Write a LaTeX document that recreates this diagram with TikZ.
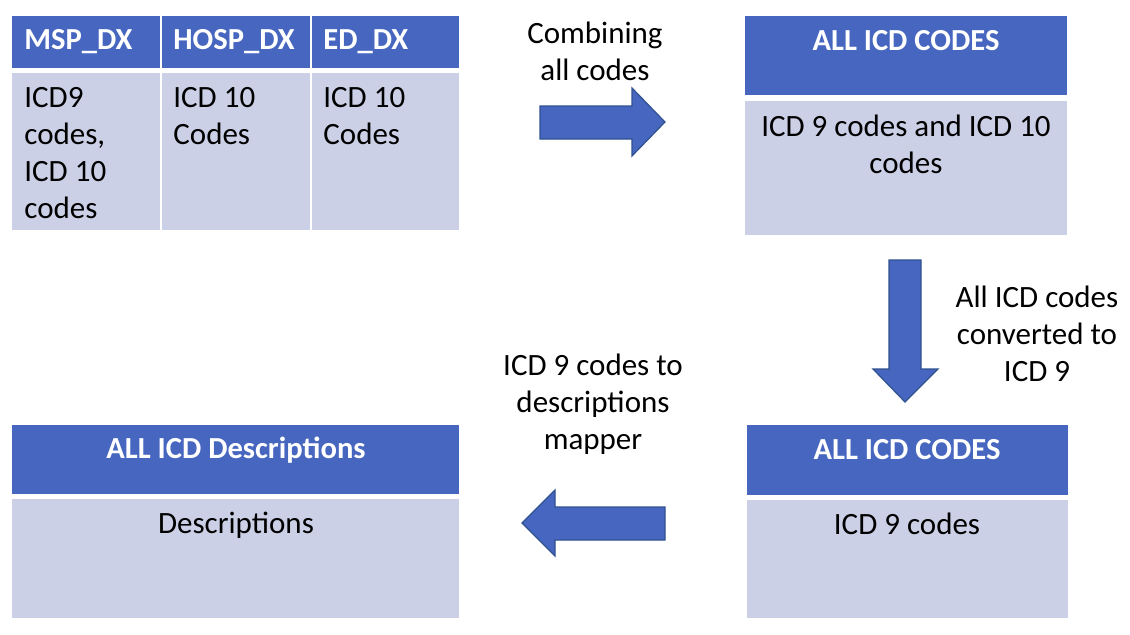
\documentclass[tikz,border=0pt]{standalone}
\usepackage{fontspec}
\setmainfont{Carlito}
\usetikzlibrary{fit}
\definecolor{hdrblue}{HTML}{4666BF}
\definecolor{rowblue}{HTML}{CBD0E6}
\definecolor{edgeblue}{HTML}{2F528F}

\begin{document}
\begin{tikzpicture}[x=0.5pt,y=-0.5pt,
    hdr/.style={fill=hdrblue, inner sep=0pt},
    row/.style={fill=rowblue, inner sep=0pt},
    htext/.style={text=white, font=\fontsize{15.3}{18}\selectfont\bfseries, inner sep=0pt},
    btext/.style={font=\fontsize{15.5}{18.5}\selectfont, inner sep=0pt, align=center},
    blockarrow/.style={fill=hdrblue, draw=edgeblue, line width=0.6pt}]
    \useasboundingbox (0,0) rectangle (1130,634);

    % source tables
    \node (msphead) [hdr, fit={(12,16) (160,68)}] {};
    \node (hosphead) [hdr, fit={(162,16) (310,68)}] {};
    \node (edhead) [hdr, fit={(312,16) (459,68)}] {};
    \node (mspbody) [row, fit={(12,73) (160,230)}] {};
    \node (hospbody) [row, fit={(162,73) (310,230)}] {};
    \node (edbody) [row, fit={(312,73) (459,230)}] {};
    \node (msplabel) [htext, anchor=west] at (24,42) {MSP\_DX};
    \node (hosplabel) [htext, anchor=west] at (173,42) {HOSP\_DX};
    \node (edlabel) [htext, anchor=west] at (323,42) {ED\_DX};
    \node (msptext) [btext, align=left, anchor=north west] at (24,87) {ICD9\\codes,\\ICD 10\\codes};
    \node (hosptext) [btext, align=left, anchor=north west] at (173,87) {ICD 10\\Codes};
    \node (edtext) [btext, align=left, anchor=north west] at (323,87) {ICD 10\\Codes};

    % combined codes
    \node (allhead) [hdr, fit={(745,16) (1067,95)}] {};
    \node (allbody) [row, fit={(745,101) (1067,235)}] {};
    \node (alllabel) [htext] at (906,41) {ALL ICD CODES};
    \node (alltext) [btext, anchor=north] at (906,115) {ICD 9 codes and ICD 10\\codes};

    % converted codes
    \node (ninehead) [hdr, fit={(747,425) (1068,495)}] {};
    \node (ninebody) [row, fit={(747,500) (1068,618)}] {};
    \node (ninelabel) [htext] at (907,450) {ALL ICD CODES};
    \node (ninetext) [btext, anchor=north] at (907,513) {ICD 9 codes};

    % descriptions
    \node (deschead) [hdr, fit={(12,425) (459,494)}] {};
    \node (descbody) [row, fit={(12,499) (459,618)}] {};
    \node (desclabel) [htext] at (236,450) {ALL ICD Descriptions};
    \node (desctext) [btext, anchor=north] at (236,512) {Descriptions};

    % block arrows and their notes
    \draw[blockarrow] (540,106) -- (632,106) -- (632,88) -- (665,122) -- (632,156) -- (632,139) -- (540,139) -- cycle;
    \draw[blockarrow] (889,260) -- (921,260) -- (921,369) -- (938,369) -- (905,402) -- (873,369) -- (889,369) -- cycle;
    \draw[blockarrow] (665,507) -- (555,507) -- (555,490) -- (522,523) -- (555,556) -- (555,540) -- (665,540) -- cycle;
    \node (combine) [btext] at (595,51) {Combining\\all codes};
    \node (convert) [btext] at (1037,334) {All ICD codes\\converted to\\ICD 9};
    \node (mapper) [btext] at (593,404) {ICD 9 codes to\\descriptions\\mapper};
\end{tikzpicture}
\end{document}
